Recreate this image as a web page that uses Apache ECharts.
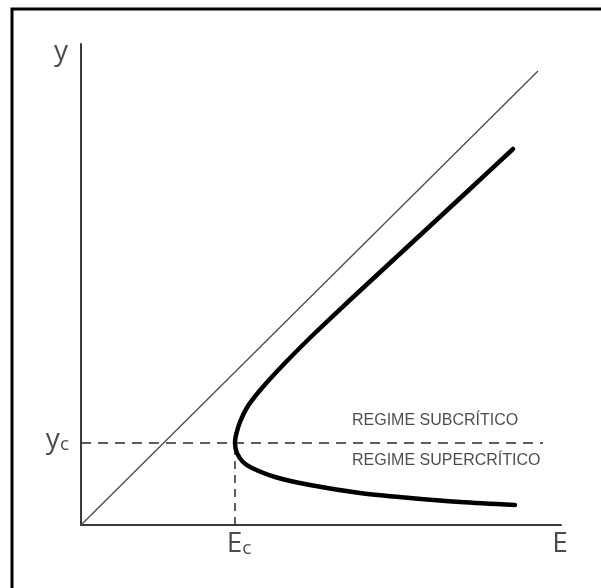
<!DOCTYPE html>
<html>
<head>
<meta charset="utf-8">
<script src="https://cdn.jsdelivr.net/npm/echarts@6/dist/echarts.min.js"></script>
<style>
  html, body { margin: 0; padding: 0; background: #fff; }
  #chart { width: 601px; height: 588px; }
</style>
</head>
<body>
<div id="chart"></div>
<script>
// axis ranges (E horizontal, y vertical)
var eMax = 480;
var yMax = 481;
var Ec = 154;
var yc = 82;

// line y = E
var diagonal = [[0, 0], [457, 454]];

// specific energy curve, from the upper end to the lower end
var curveE = [432, 389, 349, 309, 269, 234, 204, 181, 167, 159, 155, 154, 156, 162, 171, 194, 229, 279, 329, 379, 434];
var curveY = [376, 336, 299, 262, 225, 192, 162, 137, 119, 103, 90, 82, 72, 63, 57, 48, 40, 32, 27, 23, 20];

var critLineEnd = 462;

var curve = curveE.map(function (e, i) {
    return [e, curveY[i]];
});

var textColor = '#1e1e1e';
var mainFont = '"Open Sans", "Noto Sans", sans-serif';
var regimeFont = '"Liberation Sans", Arial, sans-serif';

var chart = echarts.init(document.getElementById('chart'));
var options = {
    animation: false,
    backgroundColor: '#fff',
    grid: { left: 81, top: 44, width: 480, height: 481 },
    xAxis: {
        type: 'value',
        min: 0,
        max: eMax,
        axisLine: { show: true, onZero: false, lineStyle: { color: '#3a3a3a', width: 2 } },
        axisTick: { show: false },
        axisLabel: { show: false },
        splitLine: { show: false }
    },
    yAxis: {
        type: 'value',
        min: 0,
        max: yMax,
        axisLine: { show: true, onZero: false, lineStyle: { color: '#3a3a3a', width: 2 } },
        axisTick: { show: false },
        axisLabel: { show: false },
        splitLine: { show: false }
    },
    graphic: [{
        type: 'rect',
        shape: { x: 12, y: 9, width: 800, height: 800 },
        style: { fill: 'none', stroke: '#000', lineWidth: 3 },
        silent: true
    }],
    series: [
        {
            type: 'line',
            data: diagonal,
            symbol: 'none',
            lineStyle: { color: '#4a4a4a', width: 1.3 }
        },
        {
            type: 'line',
            data: [[0, yc], [critLineEnd, yc]],
            symbol: 'none',
            lineStyle: { color: '#2a2a2a', width: 1.5, type: [10, 7] }
        },
        {
            type: 'line',
            data: [[Ec, 0], [Ec, yc]],
            symbol: 'none',
            lineStyle: { color: '#2a2a2a', width: 1.5, type: [8, 6] }
        },
        {
            type: 'line',
            data: curve,
            symbol: 'none',
            smooth: 0.3,
            lineStyle: { color: '#000', width: 4.5, cap: 'round', join: 'round' }
        },
        {
            type: 'scatter',
            symbolSize: 0,
            silent: true,
            label: {
                show: true,
                color: textColor,
                fontFamily: mainFont,
                fontSize: 28,
                rich: {
                    sub: { fontSize: 19, fontFamily: mainFont, color: textColor, padding: [9, 0, 0, 0] }
                }
            },
            data: [
                { value: [0, yMax], label: { formatter: 'y', position: 'left', distance: 13, offset: [0, 8] } },
                { value: [0, yc], label: { formatter: 'y{sub|c}', position: 'left', distance: 12, offset: [0, -3] } },
                { value: [Ec, 0], label: { formatter: 'E{sub|c}', position: 'bottom', distance: 5, offset: [4, 0] } },
                { value: [eMax, 0], label: { formatter: 'E', position: 'bottom', distance: 5, offset: [-1, 0] } },
                { value: [271, yc], label: {
                    formatter: 'REGIME SUBCRÍTICO', position: 'top', align: 'left', distance: 14,
                    fontFamily: regimeFont, fontSize: 16 } },
                { value: [271, yc], label: {
                    formatter: 'REGIME SUPERCRÍTICO', position: 'bottom', align: 'left', distance: 10,
                    fontFamily: regimeFont, fontSize: 16 } }
            ]
        }
    ]
};
chart.setOption(options);
</script>
</body>
</html>
